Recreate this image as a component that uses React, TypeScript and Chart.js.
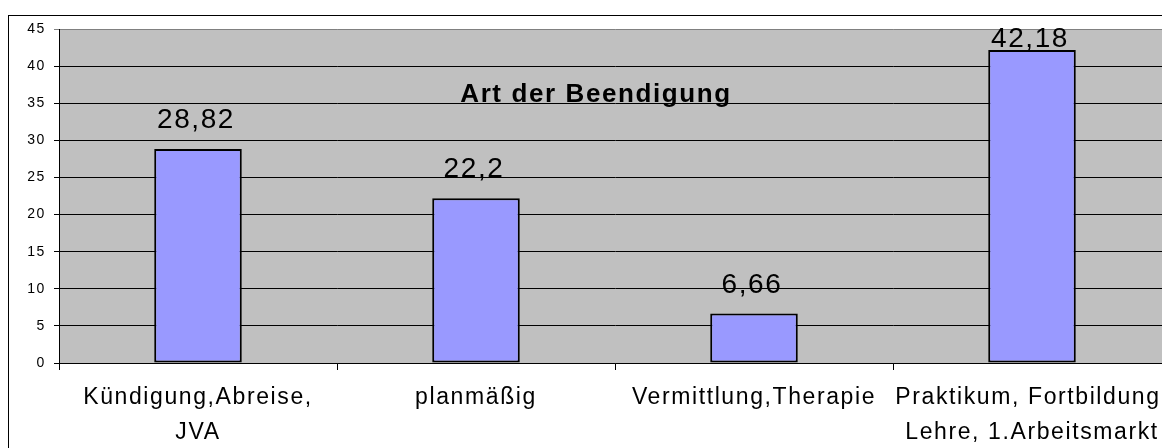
import React, { useEffect, useRef } from "react";
import { Chart, registerables } from "chart.js";

Chart.register(...registerables);

const categories: string[][] = [
  ["Kündigung,Abreise,", "JVA"],
  ["planmäßig"],
  ["Vermittlung,Therapie"],
  ["Praktikum, Fortbildung,", "Lehre, 1.Arbeitsmarkt"],
];
const values: number[] = [28.82, 22.2, 6.66, 42.18];
const valueLabels: string[] = ["28,82", "22,2", "6,66", "42,18"];
const chartTitle = "Art der Beendigung";
const yMin = 0;
const yMax = 45;
const yStep = 5;

const FONT = "'Liberation Sans', Arial, sans-serif";
const SPACING = "1.6px";

const decorPlugin: any = {
  id: "decor",
  beforeUpdate(chart: any) {
    chart.ctx.letterSpacing = SPACING;
  },
  beforeLayout(chart: any) {
    chart.ctx.letterSpacing = SPACING;
  },
  beforeDraw(chart: any) {
    const ctx = chart.ctx;
    const { left, top, right, bottom } = chart.chartArea;
    ctx.save();
    ctx.fillStyle = "#ffffff";
    ctx.fillRect(0, 0, chart.width, chart.height);
    ctx.strokeStyle = "#000000";
    ctx.lineWidth = 1;
    ctx.strokeRect(8.5, 15.5, chart.width, chart.height);
    ctx.fillStyle = "#C0C0C0";
    ctx.fillRect(left, top, right - left, bottom - top);
    ctx.restore();
    ctx.letterSpacing = SPACING;
  },
  afterDatasetsDraw(chart: any) {
    const ctx = chart.ctx;
    const { left, top } = chart.chartArea;
    const meta = chart.getDatasetMeta(0);
    ctx.save();
    ctx.letterSpacing = SPACING;
    ctx.fillStyle = "#000000";
    ctx.textAlign = "center";
    ctx.textBaseline = "alphabetic";
    ctx.font = `28px ${FONT}`;
    meta.data.forEach((bar: any, i: number) => {
      const y = Math.max(bar.y - 21, top + 18);
      ctx.fillText(valueLabels[i], bar.x - 2, y);
    });
    ctx.font = `bold 26px ${FONT}`;
    ctx.fillText(chartTitle, left + 537, top + 72.5);
    ctx.restore();
  },
};

export default function App() {
  const canvasRef = useRef<HTMLCanvasElement | null>(null);

  useEffect(() => {
    const canvas = canvasRef.current;
    if (!canvas) return;
    const chart = new Chart(canvas, {
      type: "bar",
      data: {
        labels: categories,
        datasets: [
          {
            data: values,
            backgroundColor: "#9999FF",
            borderColor: "#000000",
            borderWidth: 2,
            borderSkipped: false,
            categoryPercentage: 1,
            barPercentage: 0.315,
          },
        ],
      },
      options: {
        responsive: false,
        animation: false,
        devicePixelRatio: 1,
        layout: { padding: { left: 0, top: 29, right: 29, bottom: 0 } },
        plugins: {
          legend: { display: false },
          title: { display: false },
          tooltip: { enabled: false },
        },
        scales: {
          x: {
            offset: true,
            grid: {
              offset: true,
              drawOnChartArea: false,
              drawTicks: true,
              tickLength: 7,
              color: "#000000",
              lineWidth: 1,
            },
            border: { display: true, color: "#000000", width: 1 },
            ticks: {
              color: "#000000",
              font: { family: FONT, size: 23, lineHeight: 35 / 23 },
              padding: 10,
              autoSkip: false,
              maxRotation: 0,
              minRotation: 0,
            },
            afterFit: (s: any) => {
              s.height = 85;
            },
          },
          y: {
            min: yMin,
            max: yMax,
            ticks: {
              stepSize: yStep,
              color: "#000000",
              font: { family: FONT, size: 14 },
              padding: 8,
            },
            grid: {
              color: (c: any) => (c.tick && c.tick.value === yMax ? "#808080" : "#000000"),
              tickLength: 5,
              lineWidth: 1,
            },
            border: { display: true, color: "#000000", width: 1 },
            afterFit: (s: any) => {
              s.width = 59;
            },
          },
        },
      },
      plugins: [decorPlugin],
    });
    return () => chart.destroy();
  }, []);

  return (
    <div
      style={{
        position: "fixed",
        left: 0,
        top: 0,
        width: 1162,
        height: 448,
        overflow: "hidden",
        background: "#ffffff",
      }}
    >
      <canvas ref={canvasRef} width={1200} height={448} style={{ display: "block", width: 1200, height: 448 }} />
    </div>
  );
}
